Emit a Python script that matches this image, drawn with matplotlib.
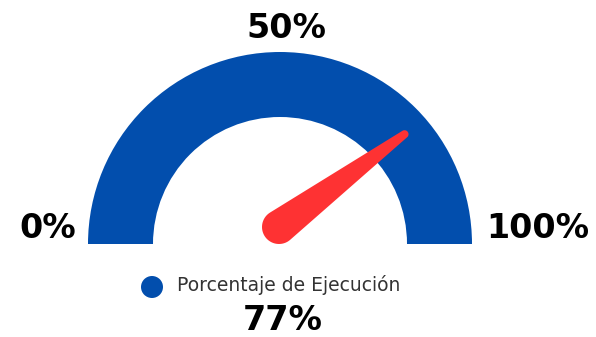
import numpy as np
import matplotlib as mpl
mpl.use('Agg')
import matplotlib.pyplot as plt
from matplotlib.patches import Wedge, Circle, Polygon

# gauge data
value = 77
min_value = 0
max_value = 100
tick_values = [0, 50, 100]
tick_labels = ['0%', '50%', '100%']
series_name = 'Porcentaje de Ejecución'

blue = '#024ead'
red = '#fe3233'

# geometry in pixel-like units, origin at gauge centre
R_OUT = 192
R_IN = 127


def needle_polygon(angle, length, r_base, r_tip, base=(0.0, 0.0), n=40):
    # tapered needle: round base, round tip, tangent sides
    bx, by = base
    tx, ty = length * np.cos(angle), length * np.sin(angle)
    d = np.hypot(tx - bx, ty - by)
    phi = np.arctan2(ty - by, tx - bx)
    a = np.arccos((r_base - r_tip) / d)
    pts = []
    for t in np.linspace(phi + a, phi + 2 * np.pi - a, n):
        pts.append((bx + r_base * np.cos(t), by + r_base * np.sin(t)))
    for t in np.linspace(phi - a, phi + a, n):
        pts.append((tx + r_tip * np.cos(t), ty + r_tip * np.sin(t)))
    return pts


fig = plt.figure(figsize=(5.96, 3.37), dpi=100)
ax = fig.add_axes([0, 0, 1, 1])
ax.set_xlim(-280, 316)
ax.set_ylim(-93, 244)
ax.set_aspect('equal')
ax.axis('off')

ax.add_patch(Wedge((0, 0), R_OUT, 0, 180, width=R_OUT - R_IN, color=blue, lw=0))

frac = (value - min_value) / (max_value - min_value)
angle = np.pi * (1 - frac)
r_base = 17
ax.add_patch(Polygon(needle_polygon(angle, 166, r_base, 4, base=(-1, r_base)),
                     closed=True, color=red, lw=0))

label_kw = dict(fontsize=24, fontweight='bold', family='DejaVu Sans', color='black')
for v, lab in zip(tick_values, tick_labels):
    f = (v - min_value) / (max_value - min_value)
    th = np.pi * (1 - f)
    if f == 0:
        ax.text(-R_OUT - 12, 16, lab, ha='right', va='center', **label_kw)
    elif f == 1:
        ax.text(R_OUT + 14, 16, lab, ha='left', va='center', **label_kw)
    else:
        ax.text(R_OUT * np.cos(th) + 6, R_OUT + 23, lab, ha='center', va='center', **label_kw)

# legend entry and value
ax.add_patch(Circle((-128, -43), 11, color=blue, lw=0))
ax.text(-103, -41, series_name, ha='left', va='center', fontsize=13.5,
        family='DejaVu Sans', color='#333333')
ax.text(3, -77, '{0}%'.format(value), ha='center', va='center', **label_kw)

plt.savefig('out.png', dpi=100)
